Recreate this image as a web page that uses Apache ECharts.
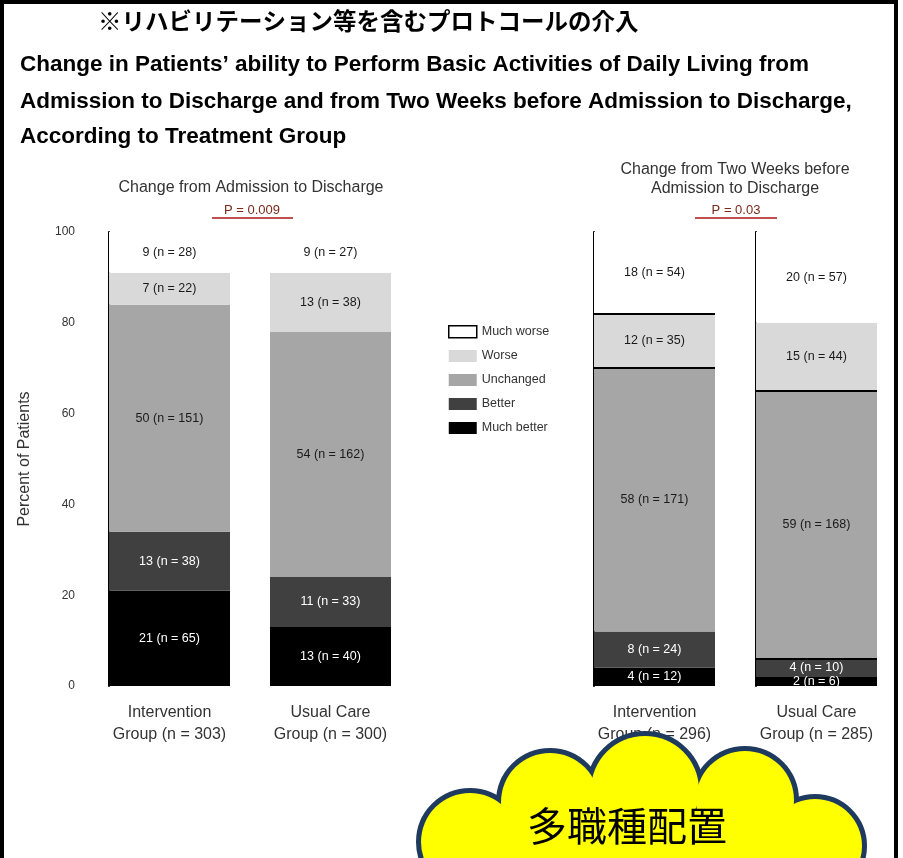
<!DOCTYPE html>
<html><head><meta charset="utf-8">
<script src="https://cdn.jsdelivr.net/npm/echarts@6/dist/echarts.min.js"></script>
<style>html,body{margin:0;padding:0;background:#fff}#c{width:903px;height:858px}</style>
</head><body><div id="c"></div>
<script>
const groups = ['Intervention\nGroup (n = 303)', 'Usual Care\nGroup (n = 300)', 'Intervention\nGroup (n = 296)', 'Usual Care\nGroup (n = 285)'];
const statusNames = ['Much better', 'Better', 'Unchanged', 'Worse', 'Much worse'];
const muchBetterPct = [21, 13, 4, 2];
const muchBetterN   = [65, 40, 12, 6];
const betterPct     = [13, 11, 8, 4];
const betterN       = [38, 33, 24, 10];
const unchangedPct  = [50, 54, 58, 59];
const unchangedN    = [151, 162, 171, 168];
const worsePct      = [7, 13, 12, 15];
const worseN        = [22, 38, 35, 44];
const muchWorsePct  = [9, 9, 18, 20];
const muchWorseN    = [28, 27, 54, 57];
const yTicks = [0, 20, 40, 60, 80, 100];
const panelTitles = ['Change from Admission to Discharge', 'Change from Two Weeks before\nAdmission to Discharge'];
const pValues = ['P = 0.009', 'P = 0.03'];

const pctSets = [muchBetterPct, betterPct, unchangedPct, worsePct, muchWorsePct];
const nSets = [muchBetterN, betterN, unchangedN, worseN, muchWorseN];
const colors = ['#000000', '#404040', '#a6a6a6', '#d9d9d9', '#ffffff'];
const labelColors = ['#ffffff', '#ffffff', '#1a1a1a', '#1a1a1a', '#1a1a1a'];
const FONT = '"Liberation Sans"';
// segment tops drawn with a black rule (scan look of the original), per group
const ruledSegments = {2: [2, 3], 3: [1, 2]};

const gridLefts = [109, 270, 594, 756];
const grids = gridLefts.map(l => ({left: l, width: 121, top: 232, height: 454}));
const xAxes = groups.map((g, i) => ({
  type: 'category', gridIndex: i, data: [g],
  axisLine: {show: false}, axisTick: {show: false},
  axisLabel: {margin: 16, fontSize: 16, lineHeight: 22, color: '#333', fontFamily: 'Liberation Sans'}
}));
const yAxes = groups.map((g, i) => ({
  type: 'value', gridIndex: i, min: yTicks[0], max: yTicks[yTicks.length - 1], interval: 20,
  splitLine: {show: false},
  axisTick: {show: false},
  axisLine: {show: i !== 1, lineStyle: {color: '#000', width: 2}},
  axisLabel: {show: i === 0, margin: 34, fontSize: 12, color: '#333', fontFamily: 'Liberation Sans'},
  name: i === 0 ? 'Percent of Patients' : '',
  nameLocation: 'middle', nameGap: 76, nameTextStyle: {fontSize: 16, color: '#333', fontFamily: 'Liberation Sans'}
}));
const series = [];
groups.forEach((g, gi) => {
  statusNames.forEach((s, si) => {
    const ser = {
      type: 'bar', name: s, xAxisIndex: gi, yAxisIndex: gi, stack: 'g' + gi,
      barWidth: '100%',
      itemStyle: {color: colors[si]},
      label: {show: true, position: 'inside', fontSize: 12.5, color: labelColors[si], fontFamily: 'Liberation Sans',
        formatter: p => pctSets[si][gi] + ' (n = ' + nSets[si][gi] + ')'},
      data: [pctSets[si][gi]]
    };
    if (ruledSegments[gi] && si === 4) {
      ser.markLine = {
        silent: true, symbol: 'none', label: {show: false},
        lineStyle: {color: '#000', width: 2, type: 'solid'},
        data: ruledSegments[gi].map(k => {
          let top = 0;
          for (let j = 0; j <= k; j++) top += pctSets[j][gi];
          return {yAxis: top};
        })
      };
    }
    series.push(ser);
  });
});

// cloud decoration
const cloudCircles = [[470, 842, 50], [550, 802, 50], [645, 790, 55], [745, 800, 50], [815, 846, 48]];
const cloudGraphics = [];
cloudCircles.forEach(c => cloudGraphics.push({type: 'circle', shape: {cx: c[0], cy: c[1], r: c[2]}, style: {fill: '#ffff00', stroke: '#1f3a5f', lineWidth: 8}, z: 100}));
cloudCircles.forEach(c => cloudGraphics.push({type: 'circle', shape: {cx: c[0], cy: c[1], r: c[2] - 1}, style: {fill: '#ffff00'}, z: 101}));
cloudGraphics.push({type: 'rect', shape: {x: 470, y: 810, width: 345, height: 60}, style: {fill: '#ffff00'}, z: 101});

const option = {
  animation: false,
  backgroundColor: '#fff',
  grid: grids, xAxis: xAxes, yAxis: yAxes, series: series,
  legend: {
    orient: 'vertical', left: 443, top: 320, itemWidth: 28, itemHeight: 12, itemGap: 11, icon: 'rect',
    textStyle: {fontSize: 12.5, color: '#333', fontFamily: 'Liberation Sans'},
    data: [
      {name: 'Much worse', itemStyle: {color: '#fff', borderColor: '#000', borderWidth: 1.5}},
      {name: 'Worse'}, {name: 'Unchanged'}, {name: 'Better'}, {name: 'Much better'}
    ]
  },
  graphic: [
    {type: 'rect', shape: {x: 2, y: 2, width: 894, height: 900}, style: {fill: 'none', stroke: '#000', lineWidth: 4}, z: 50},
    {type: 'text', left: 98, top: 9, style: {text: '※リハビリテーション等を含むプロトコールの介入', font: 'bold 23.5px "Noto Sans CJK JP"', fill: '#000'}},
    {type: 'text', left: 20, top: 53, style: {text: 'Change in Patients\u2019 ability to Perform Basic Activities of Daily Living from', font: 'bold 22.5px ' + FONT, fill: '#000'}},
    {type: 'text', left: 20, top: 90, style: {text: 'Admission to Discharge and from Two Weeks before Admission to Discharge,', font: 'bold 22.5px ' + FONT, fill: '#000'}},
    {type: 'text', left: 20, top: 125, style: {text: 'According to Treatment Group', font: 'bold 22.5px ' + FONT, fill: '#000'}},
    {type: 'text', x: 251, y: 188, style: {text: panelTitles[0], font: '16px ' + FONT, fill: '#333', align: 'center', verticalAlign: 'middle'}},
    {type: 'text', x: 735, y: 179, style: {text: panelTitles[1], font: '16px ' + FONT, fill: '#333', align: 'center', verticalAlign: 'middle', lineHeight: 19}},
    {type: 'text', x: 252, y: 210, style: {text: pValues[0], font: '13px ' + FONT, fill: '#7a2a1a', align: 'center', verticalAlign: 'middle'}},
    {type: 'text', x: 736, y: 210, style: {text: pValues[1], font: '13px ' + FONT, fill: '#7a2a1a', align: 'center', verticalAlign: 'middle'}},
    {type: 'line', shape: {x1: 212, y1: 218, x2: 293, y2: 218}, style: {stroke: '#c0504d', lineWidth: 2}},
    {type: 'line', shape: {x1: 695, y1: 218, x2: 777, y2: 218}, style: {stroke: '#c0504d', lineWidth: 2}},
    ...cloudGraphics,
    {type: 'text', x: 627, y: 826, z: 102, style: {text: '多職種配置', font: '40px "Noto Sans CJK JP"', fill: '#000', align: 'center', verticalAlign: 'middle'}}
  ]
};
const chart = echarts.init(document.getElementById('c'));
chart.setOption(option);
</script></body></html>
